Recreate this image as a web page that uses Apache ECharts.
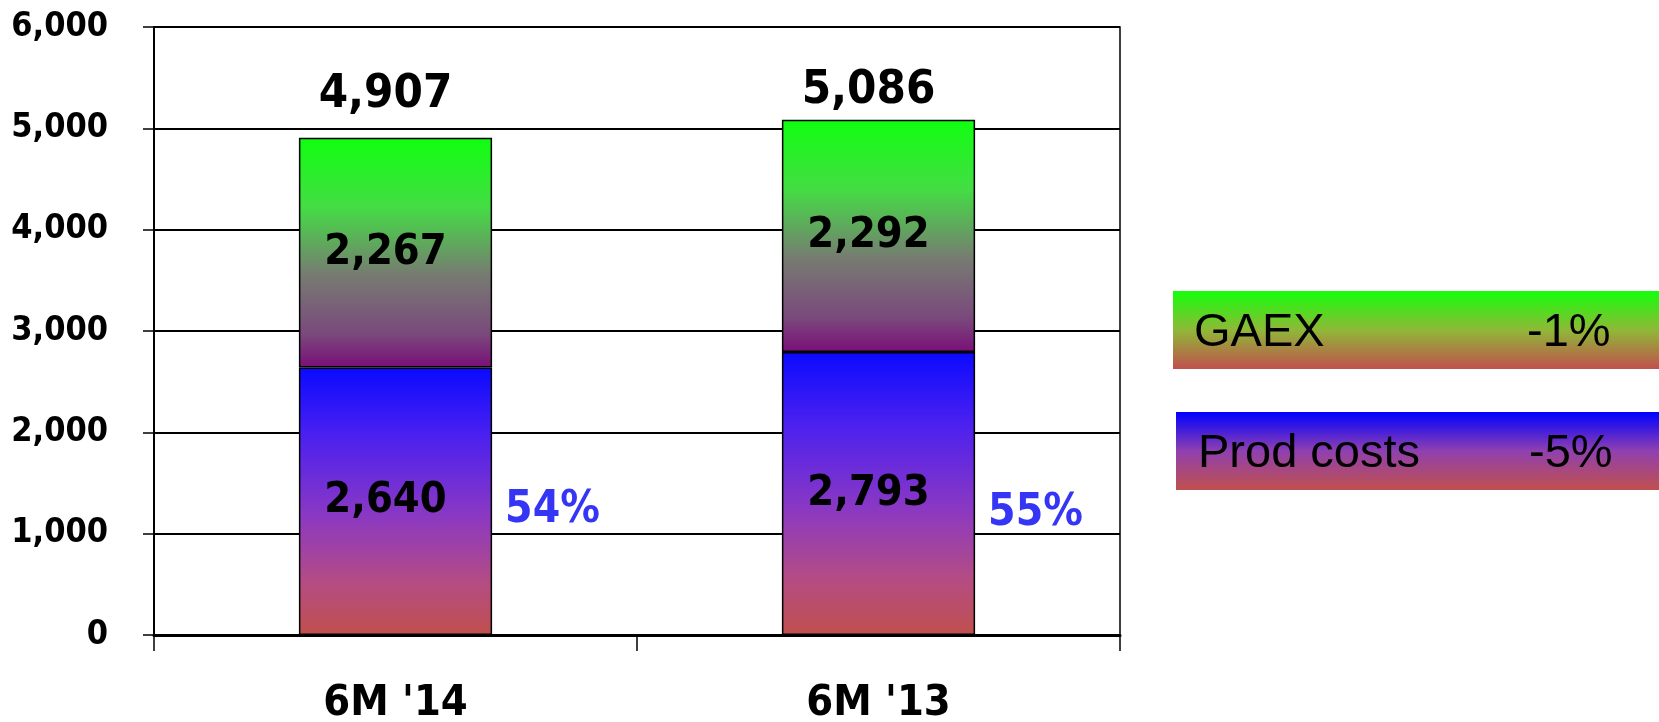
<!DOCTYPE html>
<html>
<head>
<meta charset="utf-8">
<script src="https://cdn.jsdelivr.net/npm/echarts@6/dist/echarts.min.js"></script>
<style>
html,body{margin:0;padding:0;background:#fff;}
#c{width:1659px;height:722px;}
</style>
</head>
<body>
<div id="c"></div>
<script>
// ---- data ----
var categories = ["6M '14", "6M '13"];
var prodCosts = [2640, 2793];
var gaex = [2267, 2292];
var totals = [4907, 5086];
var prodShare = [54, 55];
var legendNames = ['GAEX', 'Prod costs'];
var legendChanges = ['-1%', '-5%'];
var yTicks = [0, 1000, 2000, 3000, 4000, 5000, 6000];

var FONT = "'DejaVu Sans Condensed', 'DejaVu Sans', sans-serif";
var LFONT = "47px 'Liberation Sans', Arial, sans-serif";
var chart = echarts.init(document.getElementById('c'), null, {renderer: 'canvas'});

function fmt(v) { return Number(v).toLocaleString('en-US'); }

var gaexGrad = new echarts.graphic.LinearGradient(0, 0, 0, 1, [
  {offset: 0, color: '#10ff10'},
  {offset: 0.3, color: '#44dd44'},
  {offset: 0.6, color: '#777a72'},
  {offset: 0.85, color: '#7a4a7c'},
  {offset: 1, color: '#7a0f78'}
]);
var prodGrad = new echarts.graphic.LinearGradient(0, 0, 0, 1, [
  {offset: 0, color: '#0a0aff'},
  {offset: 0.25, color: '#4a20f0'},
  {offset: 0.55, color: '#8a38c4'},
  {offset: 0.8, color: '#b44c84'},
  {offset: 1, color: '#c0504d'}
]);
var legGaexGrad = new echarts.graphic.LinearGradient(0, 0, 0, 1, [
  {offset: 0, color: '#14ff0a'},
  {offset: 0.5, color: '#90b838'},
  {offset: 1, color: '#c0504d'}
]);
var legProdGrad = new echarts.graphic.LinearGradient(0, 0, 0, 1, [
  {offset: 0, color: '#0000ff'},
  {offset: 0.5, color: '#9040b0'},
  {offset: 1, color: '#c0504d'}
]);

var totalDist = [19, 5];
var shareOff = [[0, 9], [0, 20]];
var innerLabel = {show: true, position: 'inside', offset: [-10, 0], color: '#000', fontFamily: FONT, fontWeight: 'bold', fontSize: 43,
  formatter: function (p) { return fmt(p.value); }};

var option = {
  animation: false,
  backgroundColor: '#ffffff',
  grid: {left: 154, right: 539, top: 27, bottom: 87, containLabel: false, outerBoundsMode: 'none',
    show: true, borderColor: '#000', borderWidth: 1.5, backgroundColor: 'transparent'},
  xAxis: {
    type: 'category',
    data: categories,
    axisLine: {lineStyle: {color: '#000', width: 3}},
    axisTick: {show: true, length: 16, lineStyle: {color: '#000', width: 1.5}},
    axisLabel: {margin: 47, color: '#000', fontFamily: FONT, fontWeight: 'bold', fontSize: 43}
  },
  yAxis: {
    type: 'value',
    min: yTicks[0],
    max: yTicks[yTicks.length - 1],
    interval: 1000,
    axisLine: {show: true, lineStyle: {color: '#000', width: 2}},
    axisTick: {show: true, length: 11, lineStyle: {color: '#000', width: 1.5}},
    splitLine: {show: true, lineStyle: {color: '#000', width: 2}},
    axisLabel: {margin: 46, color: '#000', fontFamily: FONT, fontWeight: 'bold', fontSize: 34, formatter: fmt}
  },
  series: [
    {
      name: legendNames[1], type: 'bar', stack: 'cost', barWidth: '40%', barGap: '-100%',
      data: prodCosts,
      itemStyle: {color: prodGrad, borderColor: '#000', borderWidth: 1.5},
      label: innerLabel
    },
    {
      name: legendNames[0], type: 'bar', stack: 'cost', barWidth: '40%', barGap: '-100%',
      data: gaex,
      itemStyle: {color: gaexGrad, borderColor: '#000', borderWidth: 1.5},
      label: innerLabel
    },
    {
      name: 'total', type: 'bar', barWidth: '40%', barGap: '-100%', silent: true,
      data: totals.map(function (v, i) {
        return {value: v, label: {distance: totalDist[i]}};
      }),
      itemStyle: {color: 'rgba(0,0,0,0)', borderWidth: 0},
      label: {show: true, position: 'top', offset: [-10, 0], color: '#000', fontFamily: FONT, fontWeight: 'bold', fontSize: 47,
        formatter: function (p) { return fmt(p.value); }},
      z: 1
    },
    {
      name: 'share', type: 'bar', barWidth: '40%', barGap: '-100%', silent: true,
      data: prodCosts.map(function (v, i) {
        return {value: v, label: {offset: shareOff[i]}};
      }),
      itemStyle: {color: 'rgba(0,0,0,0)', borderWidth: 0},
      label: {show: true, position: 'right', distance: 13, color: '#3535f5', fontFamily: FONT, fontWeight: 'bold', fontSize: 44,
        formatter: function (p) { return prodShare[p.dataIndex] + '%'; }},
      z: 1
    }
  ],
  graphic: [
    {type: 'rect', left: 1173, top: 291, shape: {width: 486, height: 78}, style: {fill: legGaexGrad}},
    {type: 'text', x: 1194, y: 333, style: {text: legendNames[0], fill: '#000', font: LFONT, align: 'left', verticalAlign: 'middle'}},
    {type: 'text', x: 1527, y: 333, style: {text: legendChanges[0], fill: '#000', font: LFONT, align: 'left', verticalAlign: 'middle'}},
    {type: 'rect', left: 1176, top: 412, shape: {width: 483, height: 78}, style: {fill: legProdGrad}},
    {type: 'text', x: 1198, y: 454, style: {text: legendNames[1], fill: '#000', font: LFONT, align: 'left', verticalAlign: 'middle'}},
    {type: 'text', x: 1529, y: 454, style: {text: legendChanges[1], fill: '#000', font: LFONT, align: 'left', verticalAlign: 'middle'}}
  ]
};
chart.setOption(option);
</script>
</body>
</html>
